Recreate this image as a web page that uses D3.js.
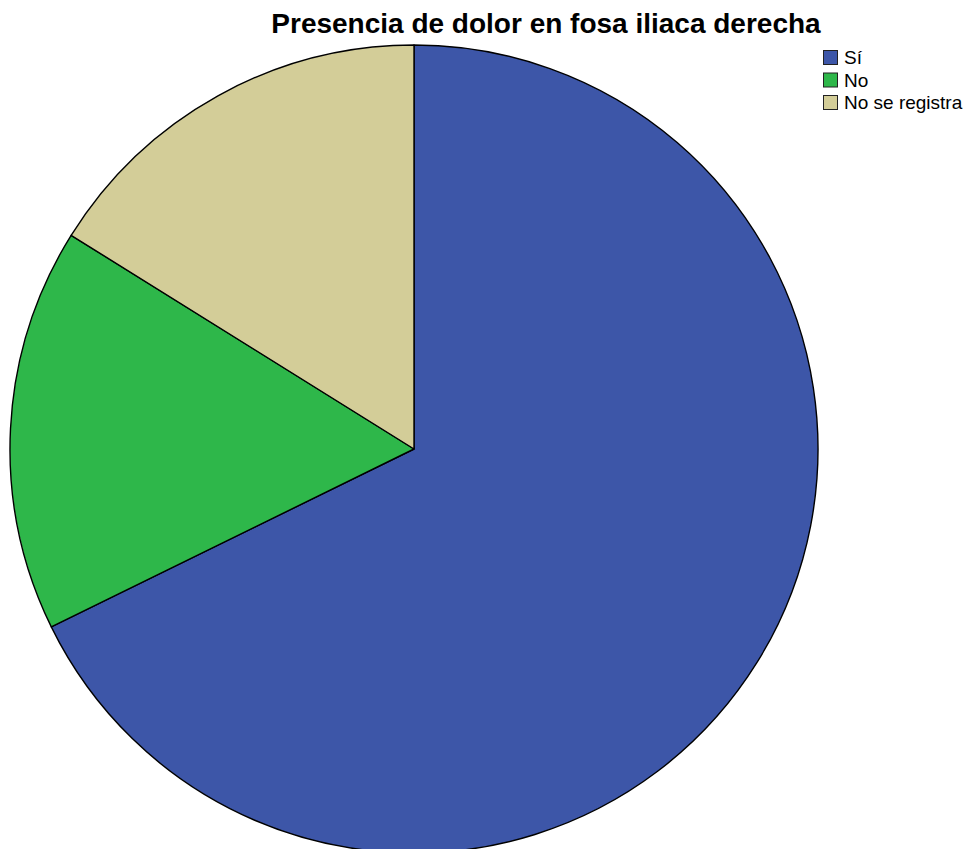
<!DOCTYPE html>
<html>
<head>
<meta charset="utf-8">
<script src="https://cdn.jsdelivr.net/npm/d3@7"></script>
<style>
  html, body { margin: 0; padding: 0; background: #ffffff; }
  svg { display: block; }
</style>
</head>
<body>
<svg id="chart" width="968" height="849"></svg>
<script>
const title = "Presencia de dolor en fosa iliaca derecha";
const categories = ["Sí", "No", "No se registra"];
const values = [42, 10, 10];
const colors = ["#3d56a8", "#2eb74a", "#d3cd98"];

const W = 968, H = 849;
const cx = 414, cy = 449, R = 404;

const svg = d3.select("#chart");

const color = d3.scaleOrdinal().domain(categories).range(colors);

const data = categories.map((c, i) => ({ cat: c, value: values[i] }));

const pie = d3.pie().sort(null).value(d => d.value).startAngle(0).endAngle(2 * Math.PI);
const arc = d3.arc().innerRadius(0).outerRadius(R);

svg.append("g")
  .attr("transform", `translate(${cx},${cy})`)
  .selectAll("path")
  .data(pie(data))
  .join("path")
  .attr("d", arc)
  .attr("fill", d => color(d.data.cat))
  .attr("stroke", "#000")
  .attr("stroke-width", 1.4)
  .attr("stroke-linejoin", "round");

svg.append("text")
  .attr("x", 546)
  .attr("y", 33)
  .attr("text-anchor", "middle")
  .attr("font-family", "Liberation Sans, Arial, sans-serif")
  .attr("font-weight", "bold")
  .attr("font-size", 28)
  .attr("fill", "#000")
  .text(title);

const legend = svg.append("g").attr("transform", "translate(823,50)");
const rows = legend.selectAll("g")
  .data(categories)
  .join("g")
  .attr("transform", (d, i) => `translate(0,${i * 22.5})`);
rows.append("rect")
  .attr("x", 0.5).attr("y", 0.5)
  .attr("width", 14).attr("height", 14)
  .attr("fill", d => color(d))
  .attr("stroke", "#222")
  .attr("stroke-width", 1);
rows.append("text")
  .attr("x", 21)
  .attr("y", 14)
  .attr("font-family", "Liberation Sans, Arial, sans-serif")
  .attr("font-size", 19)
  .attr("fill", "#000")
  .text(d => d);
</script>
</body>
</html>
